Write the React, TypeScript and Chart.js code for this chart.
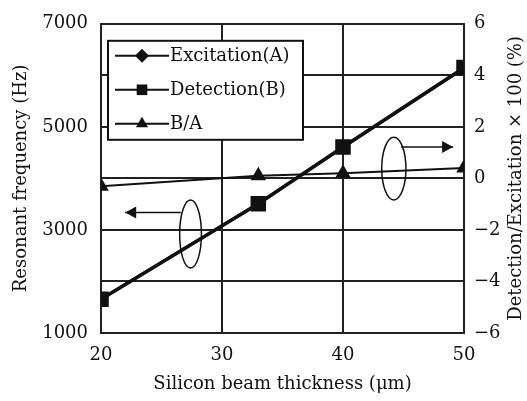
import React, { useEffect, useRef } from "react";
import { Chart, registerables } from "chart.js";

Chart.register(...registerables);

const thickness = [20, 33, 40, 50];
const excitation = [1658, 3508, 4605, 6140];
const detection = [1655, 3510, 4610, 6150];
const ratio = [-0.3, 0.1, 0.2, 0.4];
const leftTicks = [1000, 3000, 5000, 7000];
const seriesLabels = ["Excitation(A)", "Detection(B)", "B/A"];
const xTitle = "Silicon beam thickness (\u03bcm)";
const yTitle = "Resonant frequency (Hz)";
const y1Title = "Detection/Excitation \u00d7 100 (%)";

const FONT = "'DejaVu Serif', serif";
const FS = 18;

function drawPointShape(ctx: CanvasRenderingContext2D, style: string, r: number, cx: number, cy: number) {
  ctx.beginPath();
  if (style === "rectRot") {
    ctx.moveTo(cx, cy - r);
    ctx.lineTo(cx + r, cy);
    ctx.lineTo(cx, cy + r);
    ctx.lineTo(cx - r, cy);
  } else if (style === "rect") {
    const s = r * Math.SQRT1_2;
    ctx.rect(cx - s, cy - s, 2 * s, 2 * s);
  } else {
    const h = r * 1.5;
    const w = r * Math.sqrt(3);
    ctx.moveTo(cx, cy - r);
    ctx.lineTo(cx + w / 2, cy + h - r);
    ctx.lineTo(cx - w / 2, cy + h - r);
  }
  ctx.closePath();
  ctx.fill();
}

const overlayPlugin = {
  id: "overlay",
  afterDatasetsDraw(chart: any) {
    const { ctx, chartArea, scales } = chart;
    const x = scales.x, y = scales.y, y1 = scales.y1;
    ctx.save();
    ctx.strokeStyle = "#111";
    ctx.fillStyle = "#111";
    ctx.lineWidth = 1.5;
    const drawEllipse = (cx: number, cy: number, rx: number, ry: number) => {
      ctx.beginPath();
      ctx.ellipse(cx, cy, rx, ry, 0, 0, Math.PI * 2);
      ctx.stroke();
    };
    const drawArrow = (x0: number, x1: number, yy: number) => {
      ctx.beginPath();
      ctx.moveTo(x0, yy);
      ctx.lineTo(x1, yy);
      ctx.stroke();
      const dir = x1 < x0 ? 1 : -1;
      ctx.beginPath();
      ctx.moveTo(x1, yy);
      ctx.lineTo(x1 + dir * 11, yy - 6);
      ctx.lineTo(x1 + dir * 11, yy + 6);
      ctx.closePath();
      ctx.fill();
    };
    {
      const cx = x.getPixelForValue(27.4);
      const cy = y.getPixelForValue(2920);
      const rx = x.getPixelForValue(28.3) - cx;
      const ry = cy - y.getPixelForValue(3580);
      drawEllipse(cx, cy, rx, ry);
      drawArrow(x.getPixelForValue(26.6), x.getPixelForValue(22), y.getPixelForValue(3340));
    }
    {
      const cx = x.getPixelForValue(44.2);
      const cy = y1.getPixelForValue(0.38);
      const rx = x.getPixelForValue(45.2) - cx;
      const ry = cy - y1.getPixelForValue(1.6);
      drawEllipse(cx, cy, rx, ry);
      drawArrow(x.getPixelForValue(44.8), x.getPixelForValue(49.1), y1.getPixelForValue(1.22));
    }

    // legend box
    const bx = chartArea.left + 7;
    const by = chartArea.top + 17;
    const bw = 195;
    const bh = 99;
    ctx.fillStyle = "#fff";
    ctx.fillRect(bx, by, bw, bh);
    ctx.strokeStyle = "#111";
    ctx.lineWidth = 2;
    ctx.strokeRect(bx, by, bw, bh);
    const styles = ["rectRot", "rect", "triangle"];
    const radii = [7, 7.5, 7];
    ctx.font = `${FS}px ${FONT}`;
    ctx.textBaseline = "middle";
    ctx.textAlign = "left";
    seriesLabels.forEach((lab, i) => {
      const ry = by + 15 + i * 34;
      ctx.strokeStyle = "#111";
      ctx.lineWidth = 2;
      ctx.beginPath();
      ctx.moveTo(bx + 7, ry);
      ctx.lineTo(bx + 61, ry);
      ctx.stroke();
      ctx.fillStyle = "#111";
      drawPointShape(ctx, styles[i], radii[i], bx + 34, ry);
      ctx.fillText(lab, bx + 62, ry + 1);
    });

    // right axis title (reads bottom to top)
    ctx.save();
    ctx.translate(516, (chartArea.top + chartArea.bottom) / 2);
    ctx.rotate(-Math.PI / 2);
    ctx.textAlign = "center";
    ctx.textBaseline = "middle";
    ctx.fillStyle = "#111";
    ctx.font = `${FS}px ${FONT}`;
    ctx.fillText(y1Title, 0, 0);
    ctx.restore();
    ctx.restore();
  },
};

export default function App() {
  const ref = useRef<HTMLCanvasElement>(null);
  useEffect(() => {
    if (!ref.current) return;
    const chart = new Chart(ref.current, {
      type: "line",
      data: {
        datasets: [
          {
            label: seriesLabels[0],
            data: thickness.map((t, i) => ({ x: t, y: excitation[i] })),
            yAxisID: "y",
            borderColor: "#111",
            backgroundColor: "#111",
            borderWidth: 3,
            pointStyle: "rectRot",
            pointRadius: 5.5,
            order: 1,
          },
          {
            label: seriesLabels[1],
            data: thickness.map((t, i) => ({ x: t, y: detection[i] })),
            yAxisID: "y",
            borderColor: "#111",
            backgroundColor: "#111",
            borderWidth: 3.5,
            pointStyle: "rect",
            pointRadius: 8.5,
            order: 0,
          },
          {
            label: seriesLabels[2],
            data: thickness.map((t, i) => ({ x: t, y: ratio[i] })),
            yAxisID: "y1",
            borderColor: "#111",
            backgroundColor: "#111",
            borderWidth: 2,
            pointStyle: "triangle",
            pointRadius: 7,
            order: 2,
          },
        ],
      },
      options: {
        responsive: false,
        animation: false,
        layout: { padding: { top: 17, left: 0, right: 0, bottom: 0 } },
        plugins: { legend: { display: false }, tooltip: { enabled: false } },
        scales: {
          x: {
            type: "linear",
            min: 20,
            max: 50,
            ticks: { stepSize: 10, color: "#111", font: { family: FONT, size: FS }, padding: 12 },
            grid: { color: "#222", lineWidth: 2, drawTicks: false },
            border: { color: "#222", width: 2 },
            title: {
              display: true,
              text: xTitle,
              color: "#111",
              font: { family: FONT, size: FS },
              padding: { top: 0, bottom: 6 },
            },
            afterFit: (s: any) => {
              s.height = 68;
            },
          },
          y: {
            type: "linear",
            position: "left",
            min: 1000,
            max: 7000,
            ticks: {
              stepSize: 1000,
              color: "#111",
              font: { family: FONT, size: FS },
              padding: 13,
              callback: (v: any) => (leftTicks.includes(v) ? String(v) : ""),
            },
            grid: { color: "#222", lineWidth: 2, drawTicks: false },
            border: { color: "#222", width: 2 },
            title: {
              display: true,
              text: yTitle,
              color: "#111",
              font: { family: FONT, size: FS },
              padding: { top: 11, bottom: 0 },
            },
            afterFit: (s: any) => {
              s.width = 101;
            },
          },
          y1: {
            type: "linear",
            position: "right",
            min: -6,
            max: 6,
            ticks: {
              stepSize: 2,
              color: "#111",
              font: { family: FONT, size: FS },
              padding: 10,
              callback: (v: any) => (v < 0 ? "\u2212" + String(-v) : String(v)),
            },
            grid: { display: false, drawTicks: false },
            border: { color: "#222", width: 2 },
            afterFit: (s: any) => {
              s.width = 63;
            },
          },
        },
      },
      plugins: [overlayPlugin],
    } as any);
    return () => chart.destroy();
  }, []);
  return (
    <div style={{ position: "absolute", left: 0, top: 0, width: 527, height: 401, background: "#fff" }}>
      <canvas ref={ref} width={527} height={401} style={{ width: 527, height: 401 }} />
    </div>
  );
}
